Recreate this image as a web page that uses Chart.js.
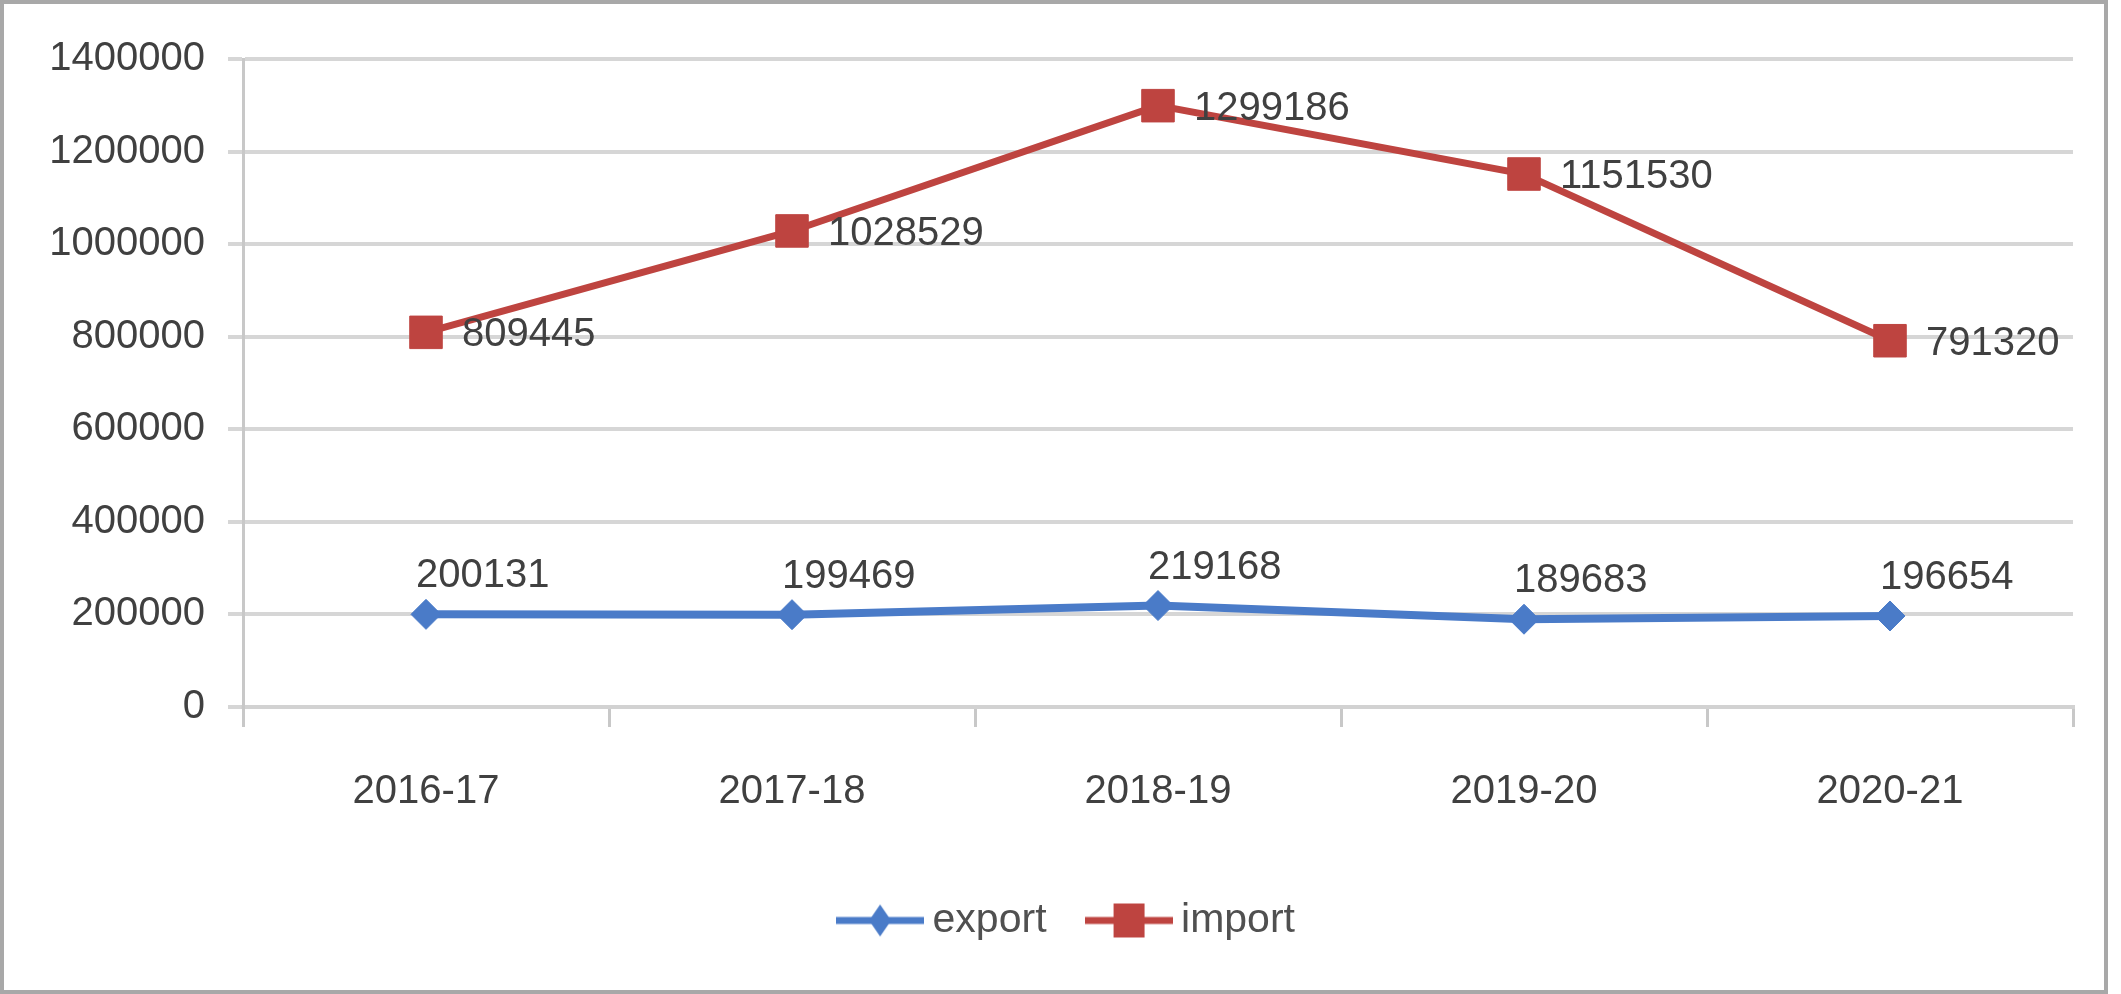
<!DOCTYPE html>
<html>
<head>
<meta charset="utf-8">
<title>export / import</title>
<script src="https://cdn.jsdelivr.net/npm/chart.js@4.4.1/dist/chart.umd.min.js"></script>
<style>
  html, body { margin: 0; padding: 0; background: #fff; }
  #wrap { position: relative; width: 2121px; height: 994px; }
  #frame { position: absolute; left: 0; top: 0; width: 2100px; height: 986px; border: 4px solid #a8a8a8; pointer-events: none; }
  canvas { position: absolute; left: 0; top: 0; }
</style>
</head>
<body>
<div id="wrap">
  <canvas id="tradeChart" width="2121" height="994"></canvas>
  <div id="frame"></div>
</div>
<script>
const years = ['2016-17', '2017-18', '2018-19', '2019-20', '2020-21'];
const exportValues = [200131, 199469, 219168, 189683, 196654];
const importValues = [809445, 1028529, 1299186, 1151530, 791320];
const yMax = 1400000;
const yStep = 200000;

const FONT = '"Liberation Sans", Arial, sans-serif';
const FONT_SIZE = 40;
const BLUE = '#4a7bc8';
const RED = '#be4440';

// little line+marker picture for the legend, like excel draws it
function legendMarker(color, shape) {
  const c = document.createElement('canvas');
  c.width = 88;
  c.height = 40;
  const g = c.getContext('2d');
  g.strokeStyle = color;
  g.lineWidth = 7;
  g.beginPath();
  g.moveTo(0, 20);
  g.lineTo(88, 20);
  g.stroke();
  g.fillStyle = color;
  if (shape === 'square') {
    g.fillRect(29, 3, 31, 34);
  } else {
    g.beginPath();
    g.moveTo(44, 4);
    g.lineTo(55, 20);
    g.lineTo(44, 36);
    g.lineTo(33, 20);
    g.closePath();
    g.fill();
  }
  return c;
}

const legendIcons = [legendMarker(BLUE, 'diamond'), legendMarker(RED, 'square')];
// where each series puts its value text relative to the point
const labelOffsets = [{ dx: -10, dy: -38 }, { dx: 36, dy: 3 }];
const legendShift = 30;

const valueLabels = {
  id: 'valueLabels',
  afterLayout(chart) {
    // nudge legend a bit right, excel doesn't center it on the whole canvas
    chart.legend.left += legendShift;
    chart.legend.right += legendShift;
  },
  afterDatasetsDraw(chart) {
    const ctx = chart.ctx;
    ctx.save();
    ctx.font = FONT_SIZE + 'px ' + FONT;
    ctx.fillStyle = '#404040';
    ctx.textAlign = 'left';
    ctx.textBaseline = 'middle';
    chart.data.datasets.forEach((ds, i) => {
      const meta = chart.getDatasetMeta(i);
      meta.data.forEach((pt, j) => {
        ctx.fillText(String(ds.data[j]), pt.x + labelOffsets[i].dx, pt.y + labelOffsets[i].dy);
      });
    });
    ctx.restore();
  }
};

const ctx = document.getElementById('tradeChart').getContext('2d');
new Chart(ctx, {
  type: 'line',
  data: {
    labels: years,
    datasets: [
      {
        label: 'export',
        data: exportValues,
        borderColor: BLUE,
        backgroundColor: BLUE,
        borderWidth: 8,
        pointStyle: 'rectRot',
        pointRadius: 15,
        pointBorderWidth: 1,
        tension: 0
      },
      {
        label: 'import',
        data: importValues,
        borderColor: RED,
        backgroundColor: RED,
        borderWidth: 7,
        pointStyle: 'rect',
        pointRadius: 23,
        pointBorderWidth: 1,
        tension: 0
      }
    ]
  },
  options: {
    responsive: false,
    animation: false,
    devicePixelRatio: 1,
    layout: { padding: { left: 10, top: 59, right: 48, bottom: 43 } },
    plugins: {
      tooltip: { enabled: false },
      legend: {
        position: 'bottom',
        labels: {
          usePointStyle: true,
          pointStyleWidth: 64,
          padding: 50,
          color: '#505050',
          font: { family: FONT, size: 41 },
          generateLabels(chart) {
            const items = Chart.defaults.plugins.legend.labels.generateLabels(chart);
            items.forEach((it, i) => { it.pointStyle = legendIcons[i]; });
            return items;
          }
        }
      }
    },
    scales: {
      x: {
        offset: true,
        afterFit(scale) { scale.height = 143; },
        grid: {
          offset: true,
          drawOnChartArea: false,
          tickLength: 20,
          color: '#c8c8c8',
          lineWidth: 3
        },
        border: { color: '#d2d2d2', width: 4 },
        ticks: {
          padding: 41,
          color: '#404040',
          font: { family: FONT, size: FONT_SIZE },
          maxRotation: 0
        }
      },
      y: {
        min: 0,
        max: yMax,
        afterFit(scale) { scale.width = 233; },
        grid: {
          color: '#d6d6d6',
          lineWidth: 4,
          tickLength: 15
        },
        border: { color: '#c8c8c8', width: 3 },
        ticks: {
          stepSize: yStep,
          padding: 23,
          color: '#404040',
          font: { family: FONT, size: FONT_SIZE },
          callback: (v) => String(v)
        }
      }
    }
  },
  plugins: [valueLabels]
});
</script>
</body>
</html>
